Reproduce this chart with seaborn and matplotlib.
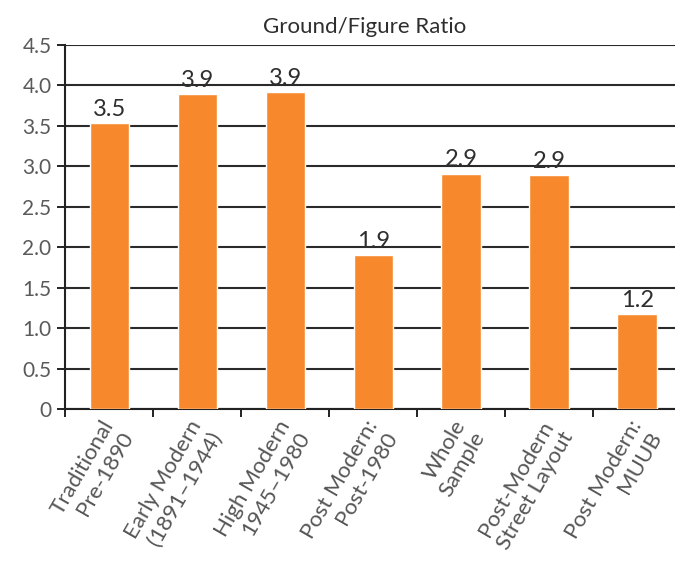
import matplotlib
matplotlib.use("Agg")
import matplotlib.pyplot as plt
import seaborn as sns
import pandas as pd

#_Data -----------------
categories = ["Traditional\nPre-1890", "Early Modern\n(1891–1944)", "High Modern\n1945–1980",
              "Post Modern:\nPost-1980", "Whole\nSample", "Post-Modern\nStreet Layout",
              "Post Modern:\nMUUB"]
values = [3.53, 3.89, 3.92, 1.90, 2.91, 2.89, 1.17]
value_labels = ["3.5", "3.9", "3.9", "1.9", "2.9", "2.9", "1.2"]
y_ticks = [0, 0.5, 1.0, 1.5, 2.0, 2.5, 3.0, 3.5, 4.0, 4.5]
y_tick_labels = ["0", "0.5", "1.0", "1.5", "2.0", "2.5", "3.0", "3.5", "4.0", "4.5"]

df = pd.DataFrame({"period": categories, "ratio": values})

#_Plot -----------------
sns.set_style("white")
plt.rcParams["font.family"] = ["Lato", "DejaVu Sans"]

fig = plt.figure(figsize=(6.75, 5.61), dpi=100)
ax = fig.add_axes([0.097, 0.271, 0.903, 0.649])

sns.barplot(data=df, x="period", y="ratio", color="#F7892C", width=0.45,
            saturation=1, ax=ax)
for bar in ax.patches:
    bar.set_zorder(3)
#To keep the grid lines behind the bars

for i, (v, lab) in enumerate(zip(values, value_labels)):
    ax.text(i, v + 0.04, lab, ha="center", va="bottom", fontsize=17,
            color="#2e2e2e", zorder=4)

ax.set_ylim(0, 4.5)
ax.set_xlim(-0.5, 6.43)
ax.set_yticks(y_ticks)
ax.set_yticklabels(y_tick_labels, fontsize=15, color="#5a5a5a")
ax.yaxis.grid(True, color="#2a2a2a", linewidth=1.5, zorder=0)
ax.set_axisbelow(True)

# ticks between categories on the x axis
ax.set_xticks([i - 0.5 for i in range(len(categories))])
ax.set_xticklabels([])
ax.tick_params(axis="x", direction="out", length=6, width=1.4, color="#222222", bottom=True)
ax.tick_params(axis="y", direction="out", length=6, width=1.4, color="#222222", left=True, pad=4)

for i, lab in enumerate(categories):
    ax.text(i - 0.1, -0.1, lab, rotation=60, ha="right", va="top",
            rotation_mode="anchor", linespacing=1.15,
            fontsize=16, color="#555555", clip_on=False)

for side in ["top", "right"]:
    ax.spines[side].set_visible(False)
for side in ["left", "bottom"]:
    ax.spines[side].set_color("#222222")
    ax.spines[side].set_linewidth(1.5)
ax.set_xlabel("")
ax.set_ylabel("")

fig.text(0.54, 0.952, "Ground/Figure Ratio", ha="center", va="center",
         fontsize=16, color="#2e2e2e")

plt.savefig("out.png", dpi=100)
plt.close()
